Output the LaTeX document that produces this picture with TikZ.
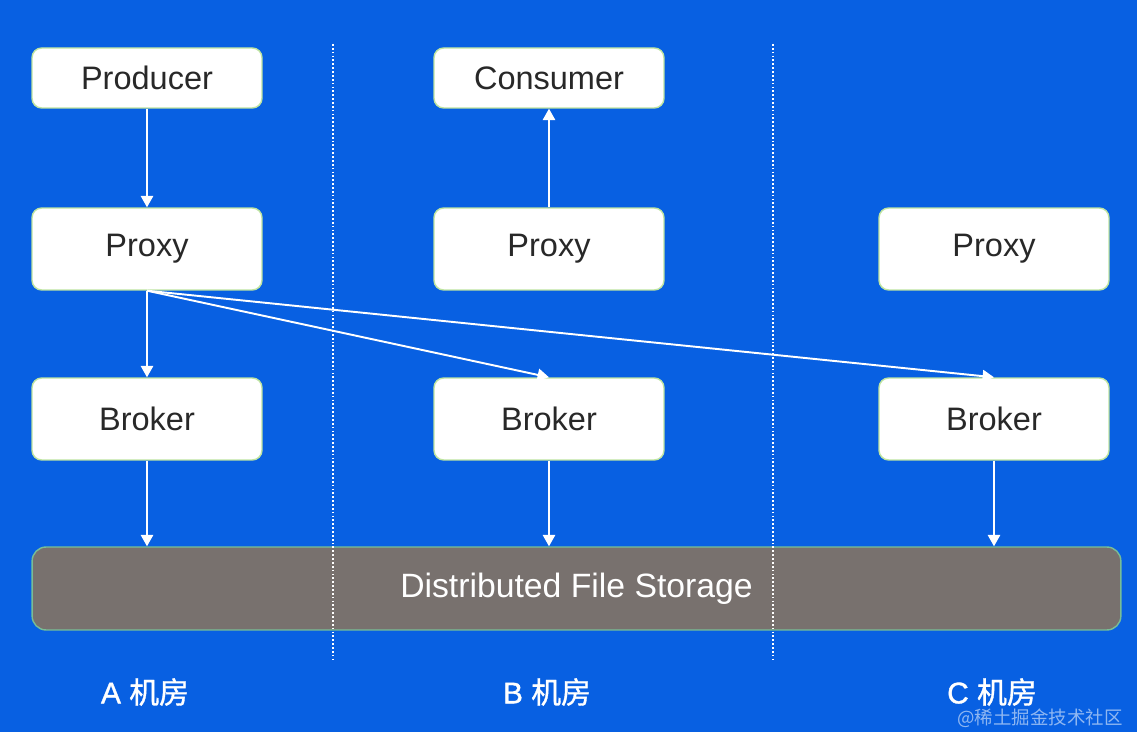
\documentclass[tikz,border=0pt]{standalone}
\usepackage{fontspec}
\setmainfont{Liberation Sans}
\newfontfamily\cjk{Noto Sans CJK SC}
\newfontfamily\cjkm[FakeBold=1.2]{Noto Sans CJK SC}
\newfontfamily\latm[FakeBold=1.2]{Liberation Sans}
\usetikzlibrary{arrows.meta}
\definecolor{bgblue}{RGB}{8,96,226}
\definecolor{boxedge}{RGB}{190,228,160}
\definecolor{txtgray}{RGB}{40,40,40}
\definecolor{storegray}{RGB}{120,113,110}
\definecolor{storeedge}{RGB}{120,190,150}
\begin{document}
\begin{tikzpicture}[x=0.02cm,y=-0.02cm,
  box/.style={draw=boxedge,line width=0.8pt,fill=white,rounded corners=5.5pt,
    minimum width=4.6cm,inner sep=0pt,text=txtgray,font=\fontsize{18.5}{20}\selectfont},
  tallbox/.style={box,minimum height=1.64cm},
  shortbox/.style={box,minimum height=1.2cm},
  store/.style={draw=storeedge,line width=0.8pt,fill=storegray,rounded corners=8pt,
    minimum width=21.78cm,minimum height=1.66cm,inner sep=0pt,text=white,
    font=\fontsize{19.2}{21}\selectfont},
  conn/.style={draw=white,line width=1.1pt,-{Triangle[width=7pt,length=6.5pt]}},
  sep/.style={draw=white,line width=0.9pt,dash pattern=on 1pt off 1.2pt},
  room/.style={text=white,font=\latm\fontsize{17}{19}\selectfont}]
\fill[bgblue] (0,0) rectangle (1137,732);
\useasboundingbox (0,0) rectangle (1137,732);
% storage
\node[store] (fs) at (576.5,588.5) {Distributed File Storage};
% separators (drawn over the storage bar)
\coordinate (s1t) at (333,44); \coordinate (s1b) at (333,662);
\coordinate (s2t) at (773,44); \coordinate (s2b) at (773,662);
\draw[sep] (s1t) -- (s1b);
\draw[sep] (s2t) -- (s2b);
% boxes
\node[shortbox] (prod) at (147,78) {Producer};
\node[shortbox] (cons) at (549,78) {Consumer};
\node[tallbox] (pa) at (147,249) {Proxy};
\node[tallbox] (pb) at (549,249) {Proxy};
\node[tallbox] (pc) at (994,249) {Proxy};
\node[tallbox] (ba) at (147,419) {Broker};
\node[tallbox] (bb) at (549,419) {Broker};
\node[tallbox] (bc) at (994,419) {Broker};
% connectors
\draw[conn] (prod.south) -- (pa.north);
\draw[conn] (pb.north) -- (cons.south);
\draw[conn] (pa.south) -- (ba.north);
\draw[conn] (pa.south) -- (bb.north);
\draw[conn] (pa.south) -- (bc.north);
\draw[conn] (ba.south) -- (ba.south |- fs.north);
\draw[conn] (bb.south) -- (bb.south |- fs.north);
\draw[conn] (bc.south) -- (bc.south |- fs.north);
% room labels
\node[room] (ra) at (145,692) {A {\cjkm 机房}};
\node[room] (rb) at (547,692) {B {\cjkm 机房}};
\node[room] (rc) at (992,692) {C {\cjkm 机房}};
% watermark
\node[text=white,opacity=0.55,font=\cjk\fontsize{10.5}{12}\selectfont] (wm) at (1040,718) {@稀土掘金技术社区};
\end{tikzpicture}
\end{document}
